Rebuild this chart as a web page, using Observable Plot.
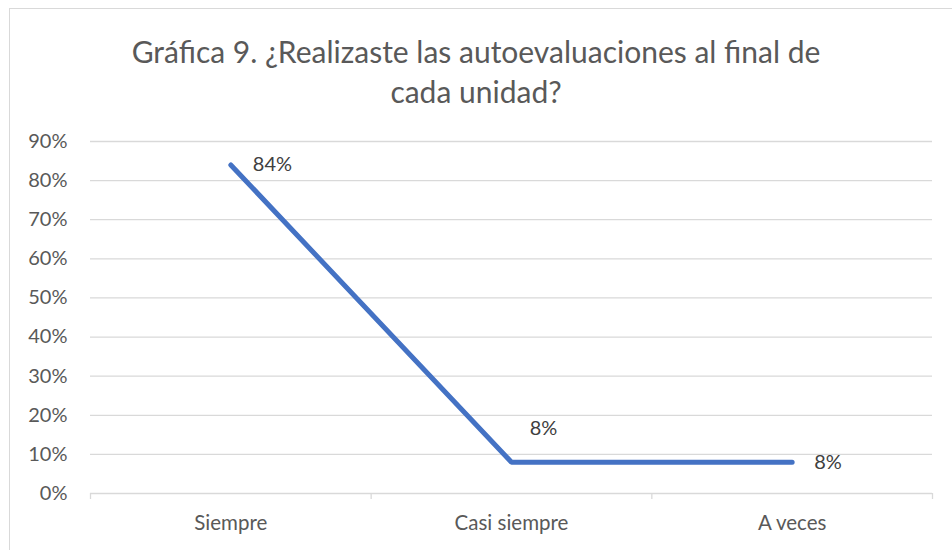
<!DOCTYPE html>
<html>
<head>
<meta charset="utf-8">
<script src="https://cdn.jsdelivr.net/npm/d3@7"></script>
<script src="https://cdn.jsdelivr.net/npm/@observablehq/plot@0.6"></script>
<style>
  html, body { margin: 0; padding: 0; background: #fff; overflow: hidden; }
  #wrap { position: relative; width: 952px; height: 550px; overflow: hidden; font-family: Lato, "Open Sans", sans-serif; }
  #frame { position: absolute; left: 9px; top: 8px; width: 980px; height: 580px; border: 1.5px solid #d9d9d9; box-sizing: border-box; }
  #title { position: absolute; left: 0; top: 31px; width: 952px; text-align: center; font-size: 30px; line-height: 40px; color: #595959; }
  #chart { position: absolute; left: 0; top: 0; }
</style>
</head>
<body>
<div id="wrap">
  <div id="frame"></div>
  <div id="title">Gráfica 9. ¿Realizaste las autoevaluaciones al final de<br>cada unidad?</div>
  <div id="chart"></div>
</div>
<script>
const categories = ["Siempre", "Casi siempre", "A veces"];
const values = [0.84, 0.08, 0.08];
const yTicks = [0, 0.1, 0.2, 0.3, 0.4, 0.5, 0.6, 0.7, 0.8, 0.9];

const data = categories.map((c, i) => ({ i, c, v: values[i] }));
const boundaries = d3.range(-0.5, categories.length, 1);
const pct = d3.format(".0%");

const chart = Plot.plot({
  width: 952,
  height: 550,
  marginLeft: 90,
  marginRight: 20,
  marginTop: 141,
  marginBottom: 57,
  style: { fontFamily: "Lato, 'Open Sans', sans-serif", background: "transparent", overflow: "visible" },
  x: { type: "linear", domain: [-0.5, categories.length - 0.5], label: null },
  y: { domain: [0, 0.9], label: null },
  marks: [
    Plot.ruleY(yTicks, { stroke: "#d9d9d9", strokeWidth: 1.3, strokeOpacity: 1 }),
    Plot.axisX(boundaries, { tickSize: 6, tickFormat: () => "", stroke: "#d9d9d9", strokeWidth: 1.3, strokeOpacity: 1, label: null }),
    Plot.axisX(d3.range(categories.length), { tickSize: 0, tickPadding: 22, tickFormat: (i) => categories[i], fontSize: 20.5, fill: "#595959", label: null }),
    Plot.axisY(yTicks, { tickSize: 0, tickPadding: 23, tickFormat: pct, fontSize: 20, fill: "#595959", label: null }),
    Plot.line(data, { x: "i", y: "v", stroke: "#4472c4", strokeWidth: 5, strokeLinecap: "round", strokeLinejoin: "miter" }),
    Plot.text(data.filter((d) => d.i !== 1), { x: "i", y: "v", text: (d) => pct(d.v), textAnchor: "start", dx: 22, fontSize: 20, fill: "#404040" }),
    Plot.text(data.filter((d) => d.i === 1), { x: "i", y: "v", text: (d) => pct(d.v), textAnchor: "middle", dx: 32, dy: -34, fontSize: 20, fill: "#404040" })
  ]
});
document.getElementById("chart").appendChild(chart);
</script>
</body>
</html>
